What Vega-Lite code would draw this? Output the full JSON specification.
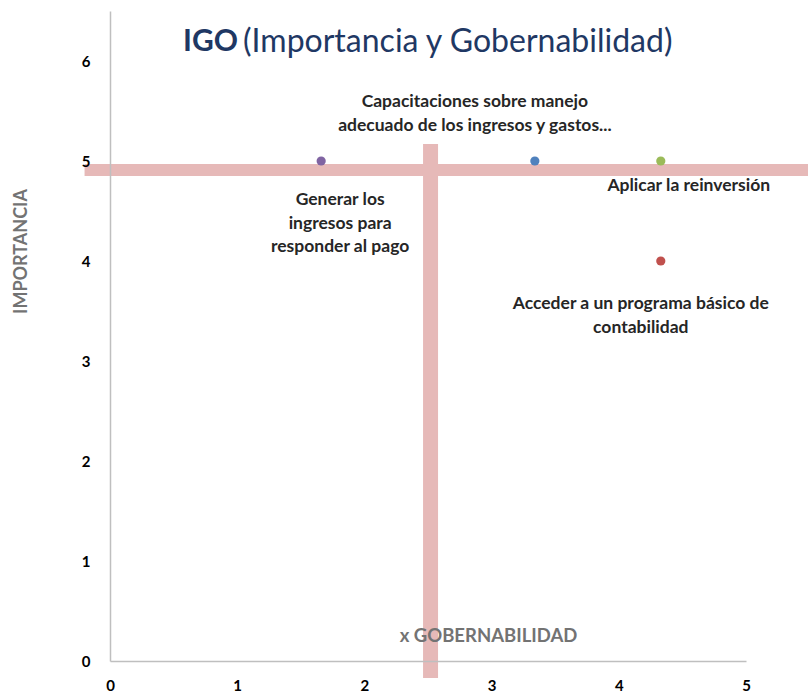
{
  "$schema": "https://vega.github.io/schema/vega-lite/v6.json",
  "width": 636,
  "height": 650,
  "autosize": {"type": "none"},
  "padding": {"left": 110, "top": 11, "right": 62, "bottom": 36},
  "background": "white",
  "config": {"view": {"stroke": null}, "font": "Lato"},
  "datasets": {
    "points": [
      {"name": "Generar", "label": "Generar los\ningresos para\nresponder al pago", "gob": 1.66, "imp": 5},
      {"name": "Capacitaciones", "label": "Capacitaciones sobre manejo\nadecuado de los ingresos y gastos...", "gob": 3.34, "imp": 5},
      {"name": "Aplicar", "label": "Aplicar la reinversión", "gob": 4.33, "imp": 5},
      {"name": "Acceder", "label": "Acceder a un programa básico de\ncontabilidad", "gob": 4.33, "imp": 4}
    ],
    "hband": [{"gob": -0.2, "gob2": 5.49, "imp": 4.91}],
    "vband": [{"gob": 2.52, "imp": -0.17, "imp2": 5.17}],
    "titleparts": [
      {"part": "IGO", "gob": 1.006, "imp": 6.19},
      {"part": "(Importancia y Gobernabilidad)", "gob": 1.046, "imp": 6.19}
    ]
  },
  "encoding": {
    "x": {
      "field": "gob", "type": "quantitative",
      "scale": {"domain": [0, 5], "nice": false, "zero": false},
      "axis": {
        "values": [0, 1, 2, 3, 4, 5], "format": "d", "grid": false, "ticks": false, "labelFlush": false,
        "domainColor": "#BFBFBF", "domainWidth": 1.5,
        "labelFont": "Lato", "labelFontWeight": "bold", "labelFontSize": 15, "labelColor": "#000000",
        "labelPadding": 17,
        "title": "x GOBERNABILIDAD", "titleFont": "Lato", "titleFontSize": 18.5, "titleFontWeight": "bold",
        "titleColor": "#737373", "titleX": 378, "titleY": -26, "titleBaseline": "middle", "titleAlign": "center",
        "zindex": 1
      }
    },
    "y": {
      "field": "imp", "type": "quantitative",
      "scale": {"domain": [0, 6.5], "nice": false, "zero": false},
      "axis": {
        "values": [0, 1, 2, 3, 4, 5, 6], "format": "d", "grid": false, "ticks": false, "labelFlush": false,
        "domainColor": "#BFBFBF", "domainWidth": 1.5,
        "labelFont": "Lato", "labelFontWeight": "bold", "labelFontSize": 15, "labelColor": "#000000",
        "labelPadding": 20,
        "title": "IMPORTANCIA", "titleFont": "Lato", "titleFontSize": 18, "titleFontWeight": "bold",
        "titleColor": "#737373", "titleX": -89, "titleY": 240, "titleBaseline": "middle", "titleAlign": "center",
        "titleAngle": -90,
        "zindex": 1
      }
    }
  },
  "layer": [
    {
      "data": {"name": "hband"},
      "mark": {"type": "rule", "color": "#E6B9B8", "strokeWidth": 12, "strokeCap": "butt"},
      "encoding": {"x2": {"field": "gob2"}}
    },
    {
      "data": {"name": "vband"},
      "mark": {"type": "rule", "color": "#E6B9B8", "strokeWidth": 15, "strokeCap": "butt"},
      "encoding": {"y2": {"field": "imp2"}}
    },
    {
      "data": {"name": "points"},
      "mark": {"type": "point", "filled": true, "size": 85, "opacity": 1},
      "encoding": {
        "color": {
          "field": "name", "type": "nominal", "legend": null,
          "scale": {"domain": ["Generar", "Capacitaciones", "Aplicar", "Acceder"], "range": ["#8064A2", "#4F81BD", "#9BBB59", "#C0504D"]}
        }
      }
    },
    {
      "data": {"name": "points"},
      "transform": [{"filter": "datum.name === 'Generar'"}],
      "mark": {"type": "text", "font": "Lato", "fontWeight": "bold", "fontSize": 17.5, "color": "#262626", "lineBreak": "\n", "lineHeight": 23.5, "align": "center", "baseline": "top", "dx": 19, "dy": 30},
      "encoding": {"text": {"field": "label"}}
    },
    {
      "data": {"name": "points"},
      "transform": [{"filter": "datum.name === 'Capacitaciones'"}],
      "mark": {"type": "text", "font": "Lato", "fontWeight": "bold", "fontSize": 17.5, "color": "#262626", "lineBreak": "\n", "lineHeight": 23.5, "align": "center", "baseline": "top", "dx": -60, "dy": -68},
      "encoding": {"text": {"field": "label"}}
    },
    {
      "data": {"name": "points"},
      "transform": [{"filter": "datum.name === 'Aplicar'"}],
      "mark": {"type": "text", "font": "Lato", "fontWeight": "bold", "fontSize": 17.5, "color": "#262626", "lineBreak": "\n", "lineHeight": 23.5, "align": "center", "baseline": "top", "dx": 28, "dy": 16},
      "encoding": {"text": {"field": "label"}}
    },
    {
      "data": {"name": "points"},
      "transform": [{"filter": "datum.name === 'Acceder'"}],
      "mark": {"type": "text", "font": "Lato", "fontWeight": "bold", "fontSize": 17.5, "color": "#262626", "lineBreak": "\n", "lineHeight": 23.5, "align": "center", "baseline": "top", "dx": -20, "dy": 34},
      "encoding": {"text": {"field": "label"}}
    },
    {
      "data": {"name": "titleparts"},
      "transform": [{"filter": "datum.part === 'IGO'"}],
      "mark": {"type": "text", "font": "Lato", "fontWeight": "bold", "fontSize": 30, "color": "#1F3864", "align": "right", "baseline": "middle"},
      "encoding": {"text": {"field": "part"}}
    },
    {
      "data": {"name": "titleparts"},
      "transform": [{"filter": "datum.part !== 'IGO'"}],
      "mark": {"type": "text", "font": "Lato", "fontWeight": "normal", "fontSize": 32, "color": "#1F3864", "align": "left", "baseline": "middle"},
      "encoding": {"text": {"field": "part"}}
    }
  ]
}
